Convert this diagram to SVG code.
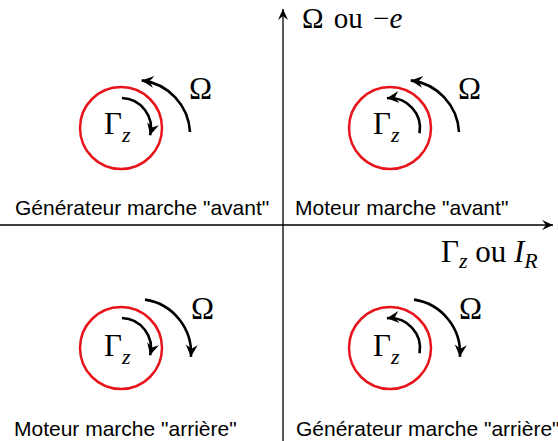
<svg xmlns="http://www.w3.org/2000/svg" width="558" height="441" viewBox="0 0 558 441">
<style>
.ring{fill:none;stroke:#e8141b;stroke-width:2.5}
.arc{fill:none;stroke:#000;stroke-width:2.6;marker-end:url(#st)}
.axis{fill:none;stroke:#000;stroke-width:1.3;marker-end:url(#sa)}
.m{font-family:"Liberation Serif","DejaVu Serif",serif;font-size:31px;fill:#000}
.ax{font-size:29px}
.i{font-style:italic}
.sub{font-size:22px;font-style:italic}
.lbl{font-family:"Liberation Sans",Arial,sans-serif;font-size:21px;fill:#000}
</style>
<defs>
<marker id="st" markerUnits="userSpaceOnUse" markerWidth="16" markerHeight="14" viewBox="-13 -7 16 14" refX="0" refY="0" orient="auto">
<path d="M0,0 L-12,-6 L-8,0 L-12,6 Z" fill="#000"/>
</marker>
<marker id="sa" markerUnits="userSpaceOnUse" markerWidth="14" markerHeight="12" viewBox="-12 -6 14 12" refX="0" refY="0" orient="auto">
<path d="M0,0 L-11,-5 L-7,0 L-11,5 Z" fill="#000"/>
</marker>
</defs>
<g id="connectors">
<path class="axis" d="M283,441 L283,9"/>
<path class="axis" d="M0,225 L553,225"/>
</g>
<g id="axis-labels">
<text class="m ax" x="302" y="28" word-spacing="3">Ω ou −<tspan class="i">e</tspan></text>
<text class="m" x="441" y="262">Γ<tspan class="sub" dy="6">z</tspan><tspan dy="-6"> ou </tspan><tspan class="i">I</tspan><tspan class="sub" dy="6">R</tspan></text>
</g>
<g id="q2">
<circle class="ring" cx="121" cy="128" r="41"/>
<path class="arc" d="M122,98 A30,30 0 0 1 150.1,135.3"/>
<path class="arc" d="M190,132 A55,55 0 0 0 141.7,80.4"/>
<text class="m" x="104" y="134">Γ<tspan class="sub" dy="8">z</tspan></text>
<text class="m" x="189" y="99">Ω</text>
<text class="lbl" x="15" y="215">Générateur marche "avant"</text>
</g>
<g id="q1">
<circle class="ring" cx="390" cy="128" r="41"/>
<path class="arc" d="M419.5,133.2 A30,30 0 0 0 386.9,98.2"/>
<path class="arc" d="M459,132 A55,55 0 0 0 410.7,80.4"/>
<text class="m" x="373" y="134">Γ<tspan class="sub" dy="8">z</tspan></text>
<text class="m" x="458" y="99">Ω</text>
<text class="lbl" x="295" y="215">Moteur marche "avant"</text>
</g>
<g id="q3">
<circle class="ring" cx="121" cy="348" r="41"/>
<path class="arc" d="M122,318 A30,30 0 0 1 150.1,355.3"/>
<path class="arc" d="M145,299.6 A54,54 0 0 1 190.9,356.8"/>
<text class="m" x="104" y="356">Γ<tspan class="sub" dy="8">z</tspan></text>
<text class="m" x="191" y="319">Ω</text>
<text class="lbl" x="14" y="436">Moteur marche "arrière"</text>
</g>
<g id="q4">
<circle class="ring" cx="390" cy="348" r="41"/>
<path class="arc" d="M419.5,353.2 A30,30 0 0 0 386.9,318.2"/>
<path class="arc" d="M414,299.6 A54,54 0 0 1 459.9,356.8"/>
<text class="m" x="373" y="356">Γ<tspan class="sub" dy="8">z</tspan></text>
<text class="m" x="459" y="319">Ω</text>
<text class="lbl" x="296" y="436">Générateur marche "arrière"</text>
</g>
</svg>
